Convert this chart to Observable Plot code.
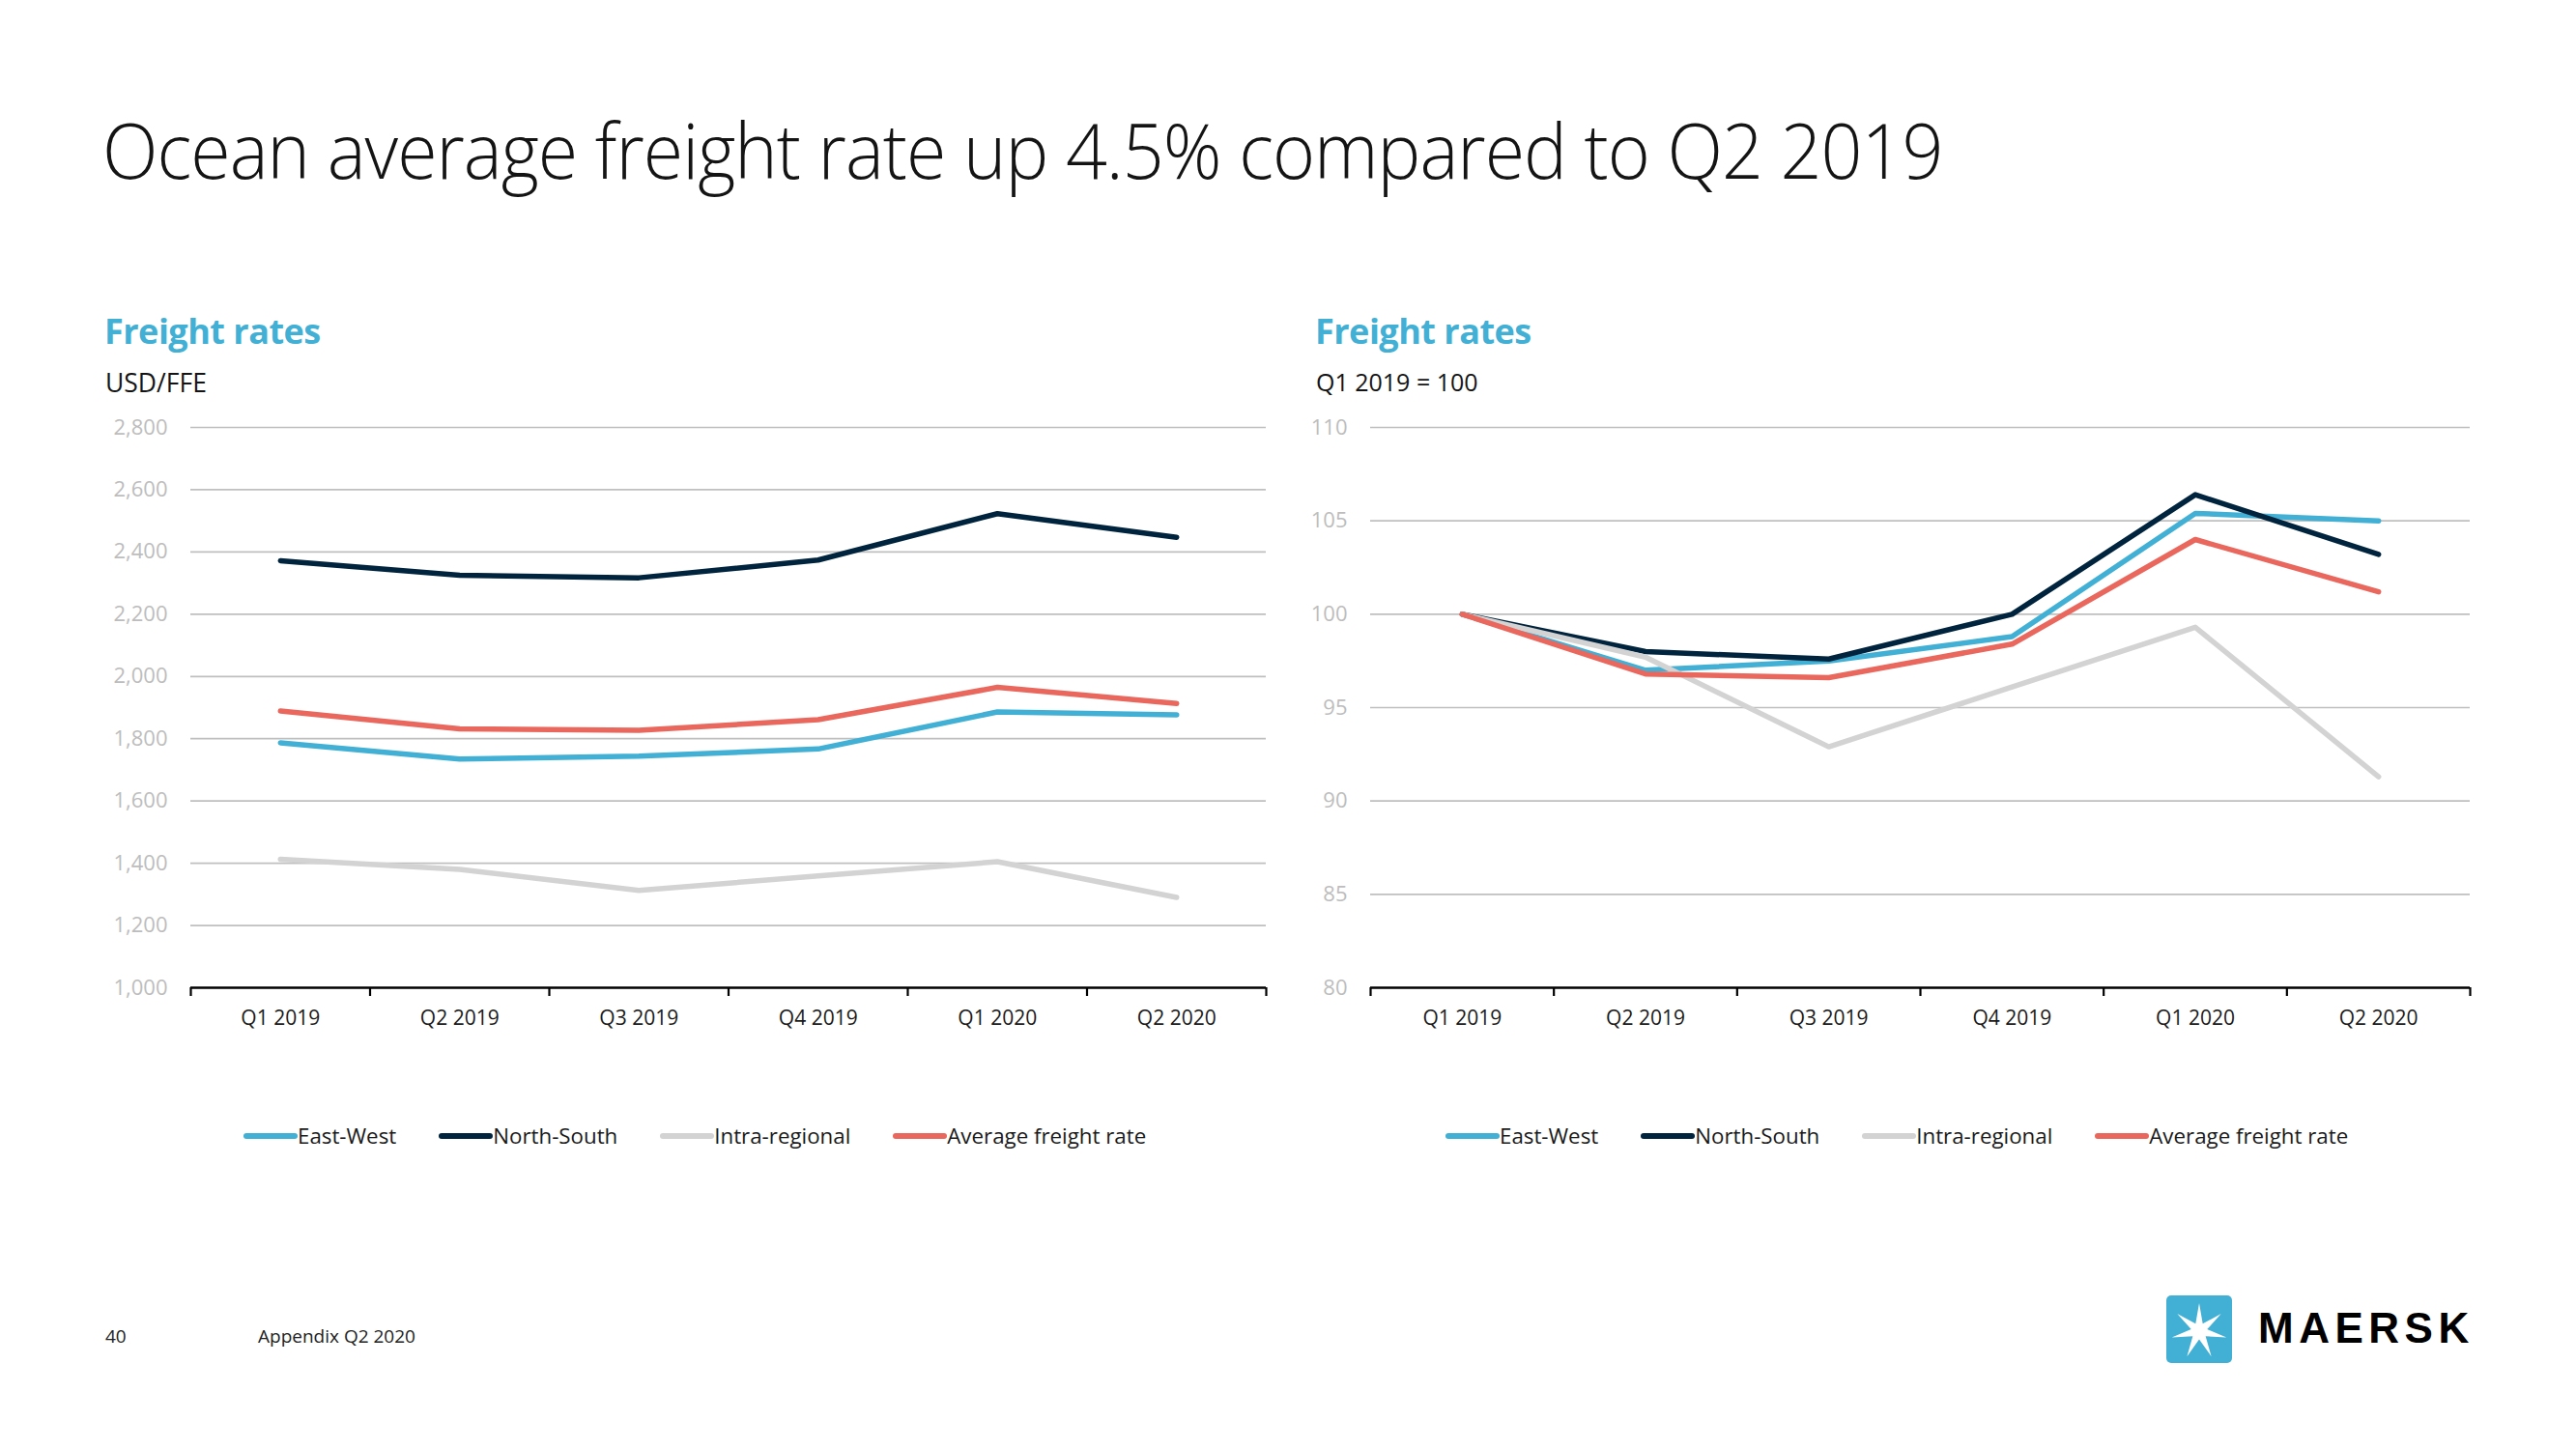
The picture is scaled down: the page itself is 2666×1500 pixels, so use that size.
<!DOCTYPE html>
<html>
<head>
<meta charset="utf-8">
<script src="https://cdn.jsdelivr.net/npm/d3@7"></script>
<script src="https://cdn.jsdelivr.net/npm/@observablehq/plot@0.6"></script>
<style>
  html, body { margin: 0; padding: 0; background: #fff; }
  body { width: 2666px; height: 1500px; position: relative; overflow: hidden; font-family: "Open Sans", sans-serif; color: #141414; }
  .abs { position: absolute; white-space: nowrap; line-height: 1; }
  .title { left: 106px; top: 114px; font-size: 80px; font-weight: 300; letter-spacing: -1px; transform: scaleX(0.94); transform-origin: 0 0; }
  .sub1 { font-size: 36px; font-weight: 700; color: #42b0d5; letter-spacing: -0.5px; }
  .sub2 { font-size: 25px; font-weight: 400; }
  .legend { display: flex; align-items: center; gap: 44px; font-size: 22.3px; color: #1a1a1a; }
  .legend .item { display: flex; align-items: center; }
  .legend .sw { width: 56px; height: 6px; border-radius: 3px; }
  .foot { font-size: 19px; color: #222; }
  .chart { position: absolute; }
</style>
</head>
<body>
<script>
// ---------- data ----------
const quarters = ["Q1 2019", "Q2 2019", "Q3 2019", "Q4 2019", "Q1 2020", "Q2 2020"];
const seriesNames = ["East-West", "North-South", "Intra-regional", "Average freight rate"];
const seriesColors = ["#42b0d5", "#00243d", "#d3d3d3", "#e9675c"];

// USD/FFE
const usdEastWest   = [1787, 1735, 1744, 1767, 1886, 1877];
const usdNorthSouth = [2372, 2325, 2317, 2374, 2523, 2447];
const usdIntra      = [1413, 1380, 1313, 1359, 1405, 1290];
const usdAverage    = [1889, 1832, 1827, 1861, 1965, 1913];
const usdTicks = [1000, 1200, 1400, 1600, 1800, 2000, 2200, 2400, 2600, 2800];

// Index Q1 2019 = 100
const idxEastWest   = [100, 97.0, 97.5, 98.8, 105.4, 105.0];
const idxNorthSouth = [100, 98.0, 97.6, 100.0, 106.4, 103.2];
const idxIntra      = [100, 97.7, 92.9, 96.1, 99.3, 91.3];
const idxAverage    = [100, 96.8, 96.6, 98.4, 104.0, 101.2];
const idxTicks = [80, 85, 90, 95, 100, 105, 110];

// ---------- helpers ----------
function el(tag, cls, text, style) {
  const e = document.createElement(tag);
  if (cls) e.className = cls;
  if (text != null) e.textContent = text;
  if (style) Object.assign(e.style, style);
  document.body.appendChild(e);
  return e;
}

function makeChart(values, ticks, fmt, opts) {
  const data = [];
  seriesNames.forEach((s, si) => values[si].forEach((v, qi) => data.push({series: s, q: qi, value: v})));
  const lo = ticks[0], hi = ticks[ticks.length - 1];
  return Plot.plot({
    width: opts.width,
    height: 672,
    marginLeft: opts.marginLeft,
    marginRight: 10,
    marginTop: 32,
    marginBottom: 60,
    x: {domain: [0, quarters.length], axis: null},
    y: {domain: [lo, hi], axis: null},
    color: {domain: seriesNames, range: seriesColors},
    style: {fontFamily: "Open Sans", background: "transparent", overflow: "visible"},
    marks: [
      Plot.ruleY(ticks.filter(t => t !== lo), {stroke: "#bfbfbf", strokeWidth: 1.7}),
      Plot.axisY(ticks, {tickSize: 0, tickPadding: 24, tickFormat: fmt, fill: "#bdbdbd", fontSize: 22, label: null}),
      Plot.lineY(data, {x: d => d.q + 0.5, y: "value", stroke: "series", strokeWidth: 5.5, strokeLinejoin: "round"}),
      Plot.ruleY([lo], {stroke: "#000", strokeWidth: 2.6}),
      Plot.axisX(d3.range(quarters.length + 1), {tickSize: 9, tickFormat: () => "", stroke: "#000", strokeWidth: 2.2, label: null}),
      Plot.axisX(quarters.map((q, i) => i + 0.5), {tickSize: 0, tickPadding: 24, tickFormat: d => quarters[Math.floor(d)], fill: "#1a1a1a", fontSize: 21, label: null})
    ]
  });
}

function legend(left) {
  const lg = el("div", "abs legend", null, {left: left + "px", top: "1165px"});
  seriesNames.forEach((s, i) => {
    const it = document.createElement("div");
    it.className = "item";
    const sw = document.createElement("div");
    sw.className = "sw";
    sw.style.background = seriesColors[i];
    const tx = document.createElement("span");
    tx.textContent = s;
    it.appendChild(sw); it.appendChild(tx);
    lg.appendChild(it);
  });
}

// ---------- page ----------
el("div", "abs title", "Ocean average freight rate up 4.5% compared to Q2 2019");

el("div", "abs sub1", "Freight rates", {left: "108px", top: "325px"});
el("div", "abs sub2", "USD/FFE", {left: "109px", top: "383px", fontSize: "26.5px"});
el("div", "abs sub1", "Freight rates", {left: "1361px", top: "325px"});
el("div", "abs sub2", "Q1 2019 = 100", {left: "1362px", top: "383px"});

const c1 = makeChart([usdEastWest, usdNorthSouth, usdIntra, usdAverage], usdTicks, d3.format(","), {width: 1211, marginLeft: 88});
c1.classList.add("chart"); c1.style.left = "109px"; c1.style.top = "410px";
document.body.appendChild(c1);

const c2 = makeChart([idxEastWest, idxNorthSouth, idxIntra, idxAverage], idxTicks, d3.format("d"), {width: 1204, marginLeft: 56});
c2.classList.add("chart"); c2.style.left = "1362px"; c2.style.top = "410px";
document.body.appendChild(c2);

legend(252);
legend(1496);

el("div", "abs foot", "40", {left: "109px", top: "1374px"});
el("div", "abs foot", "Appendix Q2 2020", {left: "267px", top: "1374px"});

// logo
const ns = "http://www.w3.org/2000/svg";
const logo = document.createElementNS(ns, "svg");
logo.setAttribute("width", "70"); logo.setAttribute("height", "70");
Object.assign(logo.style, {position: "absolute", left: "2242px", top: "1341px"});
const rect = document.createElementNS(ns, "rect");
rect.setAttribute("width", "68"); rect.setAttribute("height", "70"); rect.setAttribute("rx", "5");
rect.setAttribute("fill", "#42b0d5");
logo.appendChild(rect);
const pts = [];
for (let k = 0; k < 14; k++) {
  const r = k % 2 === 0 ? 29 : 8.5;
  const a = -Math.PI / 2 + k * Math.PI / 7;
  pts.push((34 + r * Math.cos(a)).toFixed(2) + "," + (37 + r * Math.sin(a)).toFixed(2));
}
const star = document.createElementNS(ns, "polygon");
star.setAttribute("points", pts.join(" "));
star.setAttribute("fill", "#fff");
logo.appendChild(star);
document.body.appendChild(logo);
el("div", "abs", "MAERSK", {left: "2337px", top: "1353px", fontFamily: "Liberation Sans", fontWeight: "900", fontSize: "44px", letterSpacing: "5.5px", color: "#000"});
</script>
</body>
</html>
